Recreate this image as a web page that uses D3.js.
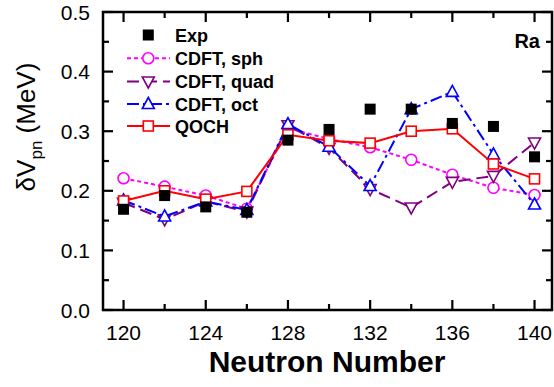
<!DOCTYPE html>
<html><head><meta charset="utf-8">
<script src="https://cdn.jsdelivr.net/npm/d3@7"></script>
<style>body{margin:0;background:#fff}text{font-family:Arial,"Liberation Sans",sans-serif}</style>
</head><body><svg id="c" width="554" height="387"></svg>
<script>
const neutrons = [120,122,124,126,128,130,132,134,136,138,140];
const expVals  = [0.169,0.192,0.173,0.164,0.285,0.303,0.337,0.337,0.313,0.308,0.257];
const sphVals  = [0.221,0.207,0.192,0.170,0.305,0.287,0.273,0.252,0.227,0.205,0.193];
const quadVals = [0.180,0.152,0.182,0.165,0.310,0.272,0.203,0.172,0.215,0.225,0.281];
const octVals  = [0.184,0.157,0.182,0.168,0.312,0.274,0.208,0.337,0.366,0.261,0.177];
const qochVals = [0.183,0.200,0.186,0.199,0.294,0.284,0.280,0.300,0.304,0.245,0.220];
const xTicks = [120,124,128,132,136,140];
const yTicks = [0.0,0.1,0.2,0.3,0.4,0.5];
const legendLabels = ["Exp","CDFT, sph","CDFT, quad","CDFT, oct","QOCH"];

const svg = d3.select("#c");
const L=103,R=552,T=12,B=310;
const x = d3.scaleLinear().domain([119,140.85]).range([L,R]);
const y = d3.scaleLinear().domain([0,0.5]).range([B,T]);

const g = svg.append("g");
d3.range(120,141,2).forEach(v=>{
  const len = v%4===0?10:6;
  g.append("line").attr("x1",x(v)).attr("x2",x(v)).attr("y1",B).attr("y2",B-len).attr("stroke","#000").attr("stroke-width",2.2);
  g.append("line").attr("x1",x(v)).attr("x2",x(v)).attr("y1",T).attr("y2",T+len).attr("stroke","#000").attr("stroke-width",2.2);
});
d3.range(0,0.501,0.05).forEach((v,i)=>{
  const len = i%2===0?10:6;
  g.append("line").attr("x1",L).attr("x2",L+len).attr("y1",y(v)).attr("y2",y(v)).attr("stroke","#000").attr("stroke-width",2.2);
  g.append("line").attr("x1",R).attr("x2",R-len).attr("y1",y(v)).attr("y2",y(v)).attr("stroke","#000").attr("stroke-width",2.2);
});
xTicks.forEach(v=>{
  g.append("text").attr("x",x(v)).attr("y",B+30).attr("text-anchor","middle").attr("font-size",21).text(v);
});
yTicks.forEach(v=>{
  g.append("text").attr("x",L-13).attr("y",y(v)+7.5).attr("text-anchor","end").attr("font-size",21).text(v.toFixed(1));
});
svg.append("text").attr("x",327).attr("y",372).attr("text-anchor","middle").attr("font-size",30).attr("font-weight","bold").text("Neutron Number");
const yl = svg.append("text").attr("transform","translate(35,127) rotate(-90)").attr("text-anchor","middle").attr("font-size",26);
yl.append("tspan").text("δV");
yl.append("tspan").attr("font-size",17).attr("dy",7).text("pn");
yl.append("tspan").attr("dy",-7).text(" (MeV)");

svg.append("text").attr("x",540).attr("y",48).attr("text-anchor","end").attr("font-size",20).attr("font-weight","bold").text("Ra");

const series = [
  {vals:sphVals,color:"#ff00ff",dash:"4,3",marker:"circle"},
  {vals:quadVals,color:"#800080",dash:"12,6",marker:"down"},
  {vals:octVals,color:"#0000ff",dash:"12,4,3,4",marker:"up"},
  {vals:qochVals,color:"#ff0000",dash:null,marker:"square"}
];
function drawMarker(sel,type,cx,cy,color,fill){
  if(type==="circle") sel.append("circle").attr("cx",cx).attr("cy",cy).attr("r",5.5).attr("fill",fill).attr("stroke",color).attr("stroke-width",1.6);
  else if(type==="square") sel.append("rect").attr("x",cx-5).attr("y",cy-5).attr("width",10).attr("height",10).attr("fill",fill).attr("stroke",color).attr("stroke-width",1.6);
  else if(type==="up") sel.append("path").attr("d",`M${cx},${cy-6.5}L${cx+6},${cy+4.5}L${cx-6},${cy+4.5}Z`).attr("fill",fill).attr("stroke",color).attr("stroke-width",1.6);
  else if(type==="down") sel.append("path").attr("d",`M${cx},${cy+6.5}L${cx+6},${cy-4.5}L${cx-6},${cy-4.5}Z`).attr("fill",fill).attr("stroke",color).attr("stroke-width",1.6);
}
const line = d3.line().x((d,i)=>x(neutrons[i])).y(d=>y(d));
series.forEach(s=>{
  const p = svg.append("path").attr("d",line(s.vals)).attr("fill","none").attr("stroke",s.color).attr("stroke-width",2);
  if(s.dash) p.attr("stroke-dasharray",s.dash);
  s.vals.forEach((v,i)=>drawMarker(svg,s.marker,x(neutrons[i]),y(v),s.color,"#fff"));
});
svg.selectAll(".exp").data(expVals).enter().append("rect")
  .attr("x",(d,i)=>x(neutrons[i])-5.5).attr("y",d=>y(d)-5.5).attr("width",11).attr("height",11).attr("fill","#000");

svg.append("rect").attr("x",L).attr("y",T).attr("width",R-L).attr("height",B-T)
  .attr("fill","none").attr("stroke","#000").attr("stroke-width",2.5);

const lg = svg.append("g");
const ly = [35,58.3,81.5,104,126];
const lx0=127,lx1=170;
lg.append("rect").attr("x",148.3-5.5).attr("y",ly[0]-5.5).attr("width",11).attr("height",11).attr("fill","#000");
series.forEach((s,k)=>{
  const yy = ly[k+1];
  const ln = lg.append("line").attr("x1",lx0).attr("x2",lx1).attr("y1",yy).attr("y2",yy).attr("stroke",s.color).attr("stroke-width",2);
  if(s.dash) ln.attr("stroke-dasharray",s.dash);
  drawMarker(lg,s.marker,148.3,yy,s.color,"#fff");
});
legendLabels.forEach((t,k)=>{
  lg.append("text").attr("x",175).attr("y",ly[k]+6.5).attr("font-size",18).attr("font-weight","bold").text(t);
});
</script></body></html>
